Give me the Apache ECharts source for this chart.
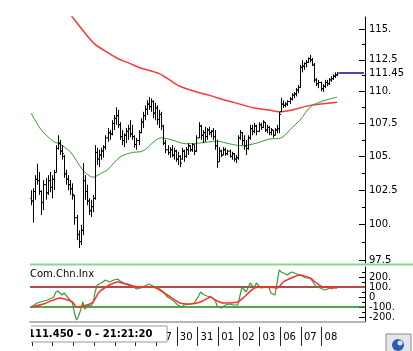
<!DOCTYPE html>
<html><head><meta charset="utf-8">
<script src="https://cdn.jsdelivr.net/npm/echarts@6/dist/echarts.min.js"></script>
<style>html,body{margin:0;padding:0;background:#fff}#c{width:413px;height:351px}</style>
</head><body><div id="c"></div>
<script>
// ---------- data ----------
const dayNames = ['18','19','20','23','24','25','26','27','30','31','01','02','03','06','07','08'];
const barsPerDay = 10;
const totalSlots = 162;
// [open, high, low, close]
const ohlc = [
[101.9,102.5,101.4,101.7],[101.7,102.65,100.15,102.4],[102.4,103.6,101.8,103.3],[103.3,104.45,102.9,103.2],
[103.2,103.85,102.15,102.4],[102.4,102.5,100.7,101.6],[101.6,103.25,101.05,102.9],[102.9,103.4,101.8,102.3],
[102.3,103.6,102.15,103.2],[103.2,103.85,102.35,102.7],[102.7,103.6,101.9,103.3],[103.3,104.0,102.5,103.8],
[103.8,105.85,103.8,105.6],[105.6,106.6,105.5,106.0],[106.0,106.25,105.1,105.4],[105.4,105.85,104.75,105.2],
[105.0,105.1,103.4,103.7],[103.7,104.0,102.9,103.3],[103.3,103.6,102.5,102.9],[102.9,103.25,102.15,102.6],
[102.6,103.0,101.8,102.2],[102.1,102.15,100.0,100.5],[100.5,100.7,98.9,99.3],[99.3,99.6,98.35,98.8],
[98.8,100.0,98.55,99.6],[99.6,104.5,99.25,103.2],[103.2,103.6,101.8,102.4],[102.4,102.9,101.4,101.7],
[101.7,101.9,100.7,101.0],[101.0,101.8,100.55,101.3],[101.3,102.15,100.9,101.9],[101.9,105.85,101.8,105.3],
[105.3,105.65,104.35,104.8],[104.8,105.5,104.2,105.1],[105.1,105.65,104.75,105.4],[105.4,105.85,104.9,105.7],
[105.7,106.6,105.5,106.4],[106.4,107.15,106.1,106.8],[106.8,107.0,106.25,106.7],[106.7,107.75,106.6,107.5],
[107.5,108.15,107.0,107.9],[107.9,108.75,107.4,108.1],[108.1,108.55,107.15,107.4],[107.4,107.6,106.25,106.5],
[106.5,107.0,105.85,106.2],[106.2,106.75,105.7,106.6],[106.6,107.15,106.0,106.9],[106.9,107.4,106.25,107.1],
[107.1,107.75,106.45,106.7],[106.7,107.4,106.25,106.5],[106.5,106.6,105.65,105.9],[105.9,106.4,105.5,106.2],
[106.2,107.0,105.85,106.8],[106.8,107.9,106.75,107.6],[107.6,108.4,107.15,108.1],[108.1,108.9,107.75,108.6],
[108.6,109.3,108.15,109.0],[109.0,109.55,108.55,108.8],[108.8,109.45,108.4,109.2],[109.2,109.3,107.9,108.3],
[108.3,109.1,107.75,108.7],[108.7,108.9,107.4,107.8],[107.8,108.55,107.15,108.2],[108.2,108.4,107.0,107.3],
[107.3,107.4,105.85,106.0],[106.0,106.25,105.25,105.5],[105.5,105.85,105.1,105.3],[105.3,105.7,104.9,105.5],
[105.5,105.85,104.95,105.1],[105.1,105.65,104.75,105.4],[105.4,105.5,104.6,104.8],[104.8,105.35,104.35,105.0],
[105.0,105.1,104.2,104.5],[104.8,105.65,104.75,105.4],[105.4,105.5,104.6,105.0],[105.0,105.7,104.9,105.5],
[105.5,106.0,105.1,105.8],[105.8,105.85,105.35,105.5],[105.5,106.0,105.35,105.9],[105.9,105.9,105.1,105.4],
[105.4,106.6,105.35,106.4],[106.4,107.6,106.4,107.3],[107.3,107.4,106.25,106.6],[106.6,107.0,106.0,106.8],
[106.8,107.25,106.1,106.5],[106.5,107.15,106.25,107.0],[107.0,107.25,106.6,106.8],[106.8,107.0,106.45,106.9],
[106.9,107.15,106.25,106.5],[106.5,107.0,105.5,105.8],[105.8,106.25,104.15,104.6],[104.6,105.7,104.6,105.4],
[105.4,105.5,104.95,105.1],[105.1,105.7,105.1,105.5],[105.5,105.65,105.05,105.2],[105.2,105.5,105.1,105.4],
[105.4,105.5,104.9,105.0],[105.0,105.35,104.75,105.2],[105.2,105.25,104.6,104.8],[104.8,105.1,104.5,104.9],
[104.9,106.6,104.75,106.4],[106.4,107.0,106.25,106.8],[106.8,106.85,105.85,106.2],[106.2,106.6,105.5,105.8],
[105.8,106.25,105.1,105.6],[105.6,106.6,105.5,106.4],[106.4,107.4,106.25,107.1],[107.1,107.4,106.6,106.9],
[106.9,107.55,106.75,107.3],[107.3,107.4,106.6,106.9],[106.9,107.6,106.85,107.4],[107.4,107.55,107.0,107.2],
[107.2,107.75,107.15,107.6],[107.6,107.6,106.85,107.0],[107.0,107.4,106.75,107.2],[107.2,107.3,106.6,106.8],
[106.8,107.15,106.6,107.0],[107.0,107.0,106.4,106.6],[106.6,107.15,106.6,107.0],[107.0,107.4,106.75,107.1],
[107.1,108.4,106.75,108.2],[108.4,109.5,108.4,109.0],[109.0,109.3,108.7,108.9],[108.9,109.15,108.75,109.0],
[109.0,109.3,108.85,109.2],[109.2,109.55,109.0,109.4],[109.4,109.85,109.3,109.7],[109.7,109.95,109.45,109.8],
[109.8,110.25,109.6,110.1],[110.1,110.5,109.85,110.3],[110.3,112.1,110.25,111.9],[111.9,112.5,111.5,112.0],
[112.0,112.3,111.7,112.2],[112.2,112.5,111.9,112.3],[112.3,112.7,112.25,112.6],[112.6,112.9,112.3,112.5],
[112.5,112.65,112.0,112.1],[112.1,112.25,110.7,110.9],[110.9,111.05,110.4,110.6],[110.6,110.9,110.25,110.7],
[110.7,110.75,110.0,110.2],[110.2,110.55,109.95,110.4],[110.4,110.9,110.25,110.7],[110.7,110.9,110.4,110.6],
[110.6,111.05,110.5,110.9],[110.9,111.2,110.75,111.0],[111.0,111.35,110.9,111.2],[111.2,111.5,111.05,111.3],
[111.3,111.5,111.2,111.45]
];
// moving averages: [bar index, value]
const maRed = [[15,117.0],[20,116.0],[25,114.9],[31,113.75],[37,113.1],[42,112.6],[48,112.2],[53,111.85],
[62,111.4],[67,110.9],[72,110.4],[79,110.0],[86,109.7],[94,109.3],[101,109.0],[108,108.7],[115,108.55],
[120,108.4],[125,108.5],[135,108.9],[148,109.15]];
const maGreen = [[0,108.3],[2,107.75],[5,107.0],[11,106.1],[13,106.0],[19,105.35],[25,104.0],[30,103.45],
[34,103.75],[37,104.0],[43,104.95],[49,105.3],[53,105.35],[55,105.5],[63,106.4],[68,106.25],[75,105.95],
[81,106.0],[90,106.15],[96,105.95],[102,105.8],[109,106.0],[115,106.3],[121,106.4],[126,107.15],[130,107.75],
[136,108.9],[148,109.55]];
// Com.Chn.Inx lines: [bar index, value]
const cciGreen = [[0,-100],[3,-60],[6,-40],[8,-30],[11,0],[12,50],[13,60],[15,20],[16,40],[18,-10],[20,-60],
[21,-160],[22,-230],[23,-190],[24,-130],[25,-50],[26,-120],[28,-80],[29,-90],[30,-60],[31,50],[32,120],[34,140],
[36,170],[38,150],[40,170],[42,180],[43,160],[45,140],[47,130],[49,110],[51,80],[53,90],[55,110],[57,130],
[59,110],[61,100],[64,50],[66,0],[69,-40],[71,-80],[73,-100],[74,-80],[77,-70],[79,-60],[81,10],[82,50],
[83,30],[85,10],[87,0],[89,-30],[90,-90],[92,-110],[94,-80],[96,-70],[98,-80],[100,-80],[102,100],[104,50],
[106,140],[108,90],[109,140],[111,90],[115,100],[116,40],[118,20],[120,270],[121,250],[124,220],[126,250],
[130,220],[133,190],[135,190],[138,100],[140,90],[142,70],[145,90],[146,80]];
const cciRed = [[0,-100],[6,-70],[14,-10],[20,-50],[22,-100],[27,-80],[30,-50],[33,50],[38,120],[42,150],
[47,120],[53,100],[59,100],[66,20],[72,-60],[77,-70],[82,-50],[87,0],[89,-30],[93,-60],[100,-50],[103,0],
[108,90],[114,100],[119,90],[122,150],[127,200],[130,220],[135,190],[138,140],[141,100],[148,90]];
const cciLevelUp = 100, cciLevelDown = -100;

const priceTicks = [97.5,100,102.5,105,107.5,110,112.5,115];
const priceTickLabels = ['97.5','100.','102.5','105.','107.5','110.','112.5','115.'];
const priceMinorTicks = [98.75,101.25,103.75,106.25,108.75,111.25,113.75];
const lastPrice = 111.45, lastPriceLabel = '111.45';
const priceAxisMin = 97.3, priceAxisMax = 116.0;
const cciTicks = [-200,-100,0,100,200];
const cciTickLabels = ['-200.','-100.','0','100.','200.'];
const cciMinorTicks = [-150,-50,50,150,250];
const cciAxisMin = -250, cciAxisMax = 300;
const indicatorName = 'Com.Chn.Inx';
const stampText = '111.450 - 0 - 21:21:20';

// ---------- build ----------
const cats = [];
const dayStart = [];
for (let i = 0; i < totalSlots; i++) {
  let d = i === 0 ? 0 : Math.floor((i - 1) / barsPerDay) + 1;
  const has = i < ohlc.length;
  cats.push(has ? dayNames[Math.min(d, dayNames.length - 1)] : '');
  dayStart.push(has && (i === 1 || (i > 1 && (i - 1) % barsPerDay === 0)));
}
const L = Math.log;
const barData = ohlc.map((d, i) => [i, L(d[0]), L(d[1]), L(d[2]), L(d[3])]);
const font = 'DejaVu Sans';

function priceLabel(v) {
  const p = Math.exp(v);
  const all = priceTicks.concat([lastPrice]);
  const labs = priceTickLabels.concat([lastPriceLabel]);
  let b = 0;
  for (let i = 1; i < all.length; i++) if (Math.abs(all[i] - p) < Math.abs(all[b] - p)) b = i;
  return labs[b];
}
function cciLabel(v) {
  let b = 0;
  for (let i = 1; i < cciTicks.length; i++) if (Math.abs(cciTicks[i] - v) < Math.abs(cciTicks[b] - v)) b = i;
  return cciTickLabels[b];
}

const chart = echarts.init(document.getElementById('c'), null, {renderer: 'canvas'});
chart.setOption({
  animation: false,
  backgroundColor: '#fff',
  grid: [
    {left: 30, right: 48, top: 17, height: 246},
    {left: 30, right: 48, top: 267, height: 55},
    {left: 30, right: 48, top: 327, height: 19}
  ],
  xAxis: [
    {gridIndex: 0, type: 'category', data: cats, boundaryGap: true, show: false},
    {gridIndex: 1, type: 'category', data: cats, boundaryGap: true,
     axisLine: {show: true, onZero: false, lineStyle: {color: '#b4b4b4', width: 2}},
     axisTick: {show: false}, axisLabel: {show: false}},
    {gridIndex: 2, type: 'category', data: cats, boundaryGap: true, position: 'bottom',
     axisLine: {show: false}, axisTick: {show: false},
     splitLine: {show: true, interval: (i) => dayStart[i], lineStyle: {color: '#222', width: 1}},
     axisLabel: {show: true, inside: true, interval: (i) => dayStart[i], align: 'left', margin: 4,
                 padding: [0, 0, 0, 2], fontSize: 10, fontFamily: font, color: '#000'}}
  ],
  yAxis: [
    {gridIndex: 0, type: 'value', position: 'right', min: L(priceAxisMin), max: L(priceAxisMax),
     splitLine: {show: false},
     axisLine: {show: true, onZero: false, lineStyle: {color: '#000', width: 1}},
     axisTick: {show: true, inside: true, length: 6, customValues: priceTicks.map(L), lineStyle: {color: '#000'}},
     axisLabel: {show: true, customValues: priceTicks.concat([lastPrice]).map(L), formatter: priceLabel,
                 margin: 4, fontSize: 10, fontFamily: font, color: '#000'}},
    {gridIndex: 0, type: 'value', position: 'right', min: L(priceAxisMin), max: L(priceAxisMax),
     splitLine: {show: false}, axisLine: {show: false},
     axisTick: {show: true, inside: true, length: 3, customValues: priceMinorTicks.map(L), lineStyle: {color: '#000'}},
     axisLabel: {show: false}},
    {gridIndex: 1, type: 'value', position: 'right', min: cciAxisMin, max: cciAxisMax,
     splitLine: {show: false},
     axisLine: {show: true, onZero: false, lineStyle: {color: '#000', width: 1}},
     axisTick: {show: true, inside: true, length: 6, customValues: cciTicks, lineStyle: {color: '#000'}},
     axisLabel: {show: true, customValues: cciTicks, formatter: cciLabel, margin: 4,
                 fontSize: 10, fontFamily: font, color: '#000'}},
    {gridIndex: 1, type: 'value', position: 'right', min: cciAxisMin, max: cciAxisMax,
     splitLine: {show: false}, axisLine: {show: false},
     axisTick: {show: true, inside: true, length: 3, customValues: cciMinorTicks, lineStyle: {color: '#000'}},
     axisLabel: {show: false}},
    {gridIndex: 2, type: 'value', min: 0, max: 1, show: false}
  ],
  series: [
    {type: 'line', xAxisIndex: 0, yAxisIndex: 0, data: maRed.map(d => [d[0], L(d[1])]), smooth: 0.3,
     symbol: 'none', lineStyle: {color: '#ff3535', width: 1.5}, clip: true, z: 2},
    {type: 'line', xAxisIndex: 0, yAxisIndex: 0, data: maGreen.map(d => [d[0], L(d[1])]), smooth: 0.3,
     symbol: 'none', lineStyle: {color: '#2f9e2f', width: 1}, clip: true, z: 2,
     markLine: {silent: true, symbol: 'none', label: {show: false},
       lineStyle: {color: '#4848a8', width: 2, type: 'solid'},
       data: [[{coord: [ohlc.length, L(lastPrice)]}, {coord: [totalSlots - 1, L(lastPrice)]}]]}},
    {type: 'custom', xAxisIndex: 0, yAxisIndex: 0, data: barData, z: 3,
     encode: {x: 0, y: [1, 2, 3, 4]},
     renderItem: function (params, api) {
       const idx = api.value(0);
       const ph = api.coord([idx, api.value(2)]);
       const pl = api.coord([idx, api.value(3)]);
       const po = api.coord([idx, api.value(1)]);
       const pc = api.coord([idx, api.value(4)]);
       const xc = Math.round(ph[0]) + 0.5;
       const st = {stroke: '#000', lineWidth: 1};
       return {type: 'group', children: [
         {type: 'line', shape: {x1: xc, y1: ph[1], x2: xc, y2: pl[1]}, style: st},
         {type: 'line', shape: {x1: xc - 1.5, y1: po[1], x2: xc, y2: po[1]}, style: st},
         {type: 'line', shape: {x1: xc, y1: pc[1], x2: xc + 1.5, y2: pc[1]}, style: st}
       ]};
     }},
    {type: 'line', xAxisIndex: 1, yAxisIndex: 2, data: cciGreen, symbol: 'none',
     lineStyle: {color: '#3a9a3a', width: 1.2}, z: 3},
    {type: 'line', xAxisIndex: 1, yAxisIndex: 2, data: cciRed, symbol: 'none', smooth: 0.2,
     lineStyle: {color: '#ff2d2d', width: 1.5}, z: 4,
     markLine: {silent: true, symbol: 'none', label: {show: false}, z: 2,
       data: [
         {yAxis: cciLevelUp, lineStyle: {color: '#b04c4c', width: 2, type: 'solid'}},
         {yAxis: cciLevelDown, lineStyle: {color: '#138a13', width: 1.5, type: 'solid'}}
       ]}}
  ],
  graphic: [
    {type: 'line', z: 100, shape: {x1: 30, y1: 264.5, x2: 413, y2: 264.5}, style: {stroke: '#8ad88a', lineWidth: 2}},
    {type: 'text', z: 100, left: 30, top: 269, style: {text: indicatorName, font: '10px "DejaVu Sans"', fill: '#000'}},
    {type: 'rect', z: 100, shape: {x: 29, y: 326, width: 138, height: 16}, style: {fill: '#fff', stroke: '#9a9a9a', lineWidth: 1}},
    {type: 'text', z: 101, x: 28, y: 334, style: {text: stampText, font: 'bold 10px "DejaVu Sans"', fill: '#000', textVerticalAlign: 'middle', verticalAlign: 'middle'}},
    {type: 'rect', z: 102, shape: {x: 0, y: 324, width: 31, height: 22}, style: {fill: '#fff'}},
    {type: 'rect', z: 102, shape: {x: 361, y: 325, width: 8, height: 23}, style: {fill: '#fff'}},
    {type: 'group', z: 100, children: [
      {type: 'rect', shape: {x: 386, y: 334, width: 25, height: 19}, style: {fill: '#e4e6ec', stroke: '#8a8a8a', lineWidth: 1}},
      {type: 'circle', shape: {cx: 398, cy: 345, r: 6}, style: {fill: '#2a5cb4'}},
      {type: 'circle', shape: {cx: 400, cy: 343, r: 2.5}, style: {fill: '#e4e6ec'}}
    ]}
  ]
});
</script>
</body></html>
